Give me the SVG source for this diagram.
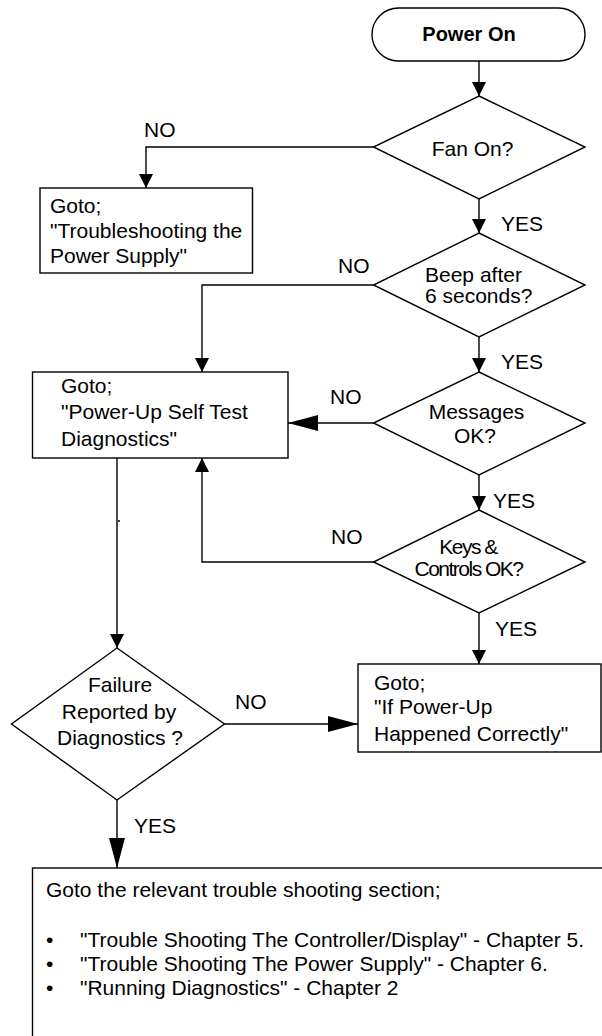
<svg xmlns="http://www.w3.org/2000/svg" width="602" height="1036" viewBox="0 0 602 1036">
<style>
.shape{fill:#fff;stroke:#000;stroke-width:1.4}
.ln{fill:none;stroke:#000;stroke-width:1.4}
text{font-family:"Liberation Sans",Arial,sans-serif;font-size:21px;fill:#000}
.c{text-anchor:middle}
.b{font-weight:bold;font-size:20px}
.cond{letter-spacing:-1.5px}
</style>
<defs>
<marker id="sm" viewBox="0 0 14 14" refX="14" refY="7" markerWidth="14" markerHeight="14" markerUnits="userSpaceOnUse" orient="auto"><path d="M0,0 L14,7 L0,14 z" fill="#000"/></marker>
<marker id="lg" viewBox="0 0 30 16" refX="30" refY="8" markerWidth="30" markerHeight="16" markerUnits="userSpaceOnUse" orient="auto"><path d="M0,0 L30,8 L0,16 z" fill="#000"/></marker>
</defs>
<rect width="602" height="1036" fill="#fff"/>
<g id="connectors">
<path class="ln" d="M479,61 V96" marker-end="url(#sm)"/>
<path class="ln" d="M373.5,147 H146 V188" marker-end="url(#sm)"/>
<path class="ln" d="M479,199 V233" marker-end="url(#sm)"/>
<path class="ln" d="M373.5,285 H202 V372" marker-end="url(#sm)"/>
<path class="ln" d="M479,337 V372" marker-end="url(#sm)"/>
<path class="ln" d="M373.5,423 H288" marker-end="url(#lg)"/>
<path class="ln" d="M479,475 V510" marker-end="url(#sm)"/>
<path class="ln" d="M373.5,562 H202 V458" marker-end="url(#sm)"/>
<path class="ln" d="M479,613 V664" marker-end="url(#sm)"/>
<path class="ln" d="M117,458 V648" marker-end="url(#sm)"/>
<path class="ln" d="M118,521 H120"/>
<path class="ln" d="M224.5,724 H358" marker-end="url(#lg)"/>
<path class="ln" d="M117,800 V868" marker-end="url(#lg)"/>
<text x="144" y="137">NO</text>
<text x="501" y="231">YES</text>
<text x="338" y="273">NO</text>
<text x="501" y="369">YES</text>
<text x="330" y="404">NO</text>
<text x="493" y="508">YES</text>
<text x="331" y="544">NO</text>
<text x="495" y="636">YES</text>
<text x="235" y="709">NO</text>
<text x="134" y="833">YES</text>
</g>
<g id="power-on">
<rect class="shape" x="372" y="8" width="213" height="53" rx="26.5" ry="26.5"/>
<text class="c b" x="469" y="41">Power On</text>
</g>
<g id="fan-on">
<path class="shape" d="M479,96 L585,147 L479,199 L373.5,147 Z"/>
<text class="c" x="472.5" y="156">Fan On?</text>
</g>
<g id="troubleshoot-psu">
<rect class="shape" x="40" y="188" width="212.5" height="85"/>
<text x="50" y="213">Goto;</text>
<text x="50" y="238">"Troubleshooting the</text>
<text x="50" y="263">Power Supply"</text>
</g>
<g id="beep">
<path class="shape" d="M479,233 L585,285 L479,337 L373.5,285 Z"/>
<text x="425" y="282">Beep after</text>
<text x="425" y="303">6 seconds?</text>
</g>
<g id="self-test">
<rect class="shape" x="32.5" y="372" width="255.5" height="86"/>
<text x="61" y="393">Goto;</text>
<text x="61" y="419">"Power-Up Self Test</text>
<text x="61" y="446">Diagnostics"</text>
</g>
<g id="messages">
<path class="shape" d="M479,372 L585,423 L479,475 L373.5,423 Z"/>
<text class="c" x="476.5" y="419">Messages</text>
<text class="c" x="475" y="443">OK?</text>
</g>
<g id="keys">
<path class="shape" d="M479,510 L585,562 L479,613 L373.5,562 Z"/>
<text class="c cond" x="468" y="554">Keys &amp;</text>
<text class="c cond" x="468.5" y="576">Controls OK?</text>
</g>
<g id="power-up-ok">
<rect class="shape" x="358" y="664" width="243" height="88"/>
<text x="374" y="690">Goto;</text>
<text x="374" y="714">"If Power-Up</text>
<text x="374" y="741">Happened Correctly"</text>
</g>
<g id="failure">
<path class="shape" d="M117,648 L224.5,724 L117,800 L11.5,724 Z"/>
<text class="c" x="120" y="692">Failure</text>
<text class="c" x="119" y="719">Reported by</text>
<text class="c" x="120" y="745">Diagnostics ?</text>
</g>
<g id="troubleshoot-section">
<rect class="shape" x="32.5" y="868" width="600" height="200"/>
<text x="46" y="897">Goto the relevant trouble shooting section;</text>
<text x="46" y="947">•</text>
<text x="80" y="947">"Trouble Shooting The Controller/Display" - Chapter 5.</text>
<text x="46" y="971">•</text>
<text x="80" y="971">"Trouble Shooting The Power Supply" - Chapter 6.</text>
<text x="46" y="995">•</text>
<text x="80" y="995">"Running Diagnostics" - Chapter 2</text>
</g>
</svg>
